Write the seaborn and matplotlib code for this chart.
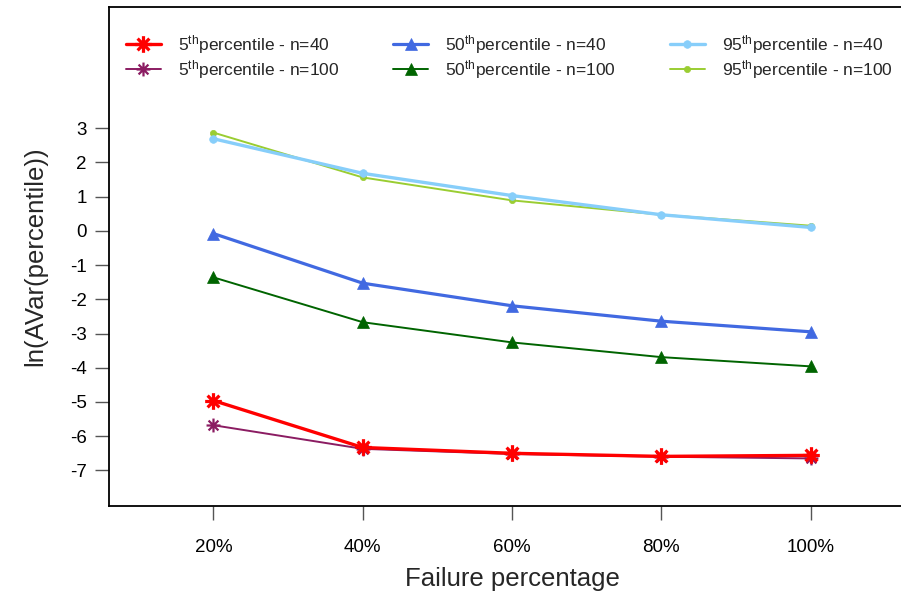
import numpy as np
import pandas as pd
import matplotlib
matplotlib.use("Agg")
import matplotlib.pyplot as plt
from matplotlib.path import Path
import seaborn as sns

# Failure percentages on the x axis
failure_pct = [20, 40, 60, 80, 100]
x_tick_labels = ["20%", "40%", "60%", "80%", "100%"]
y_ticks = [3, 2, 1, 0, -1, -2, -3, -4, -5, -6, -7]

# ln(AVar) of each percentile estimator
p5_n40 = [-4.96, -6.33, -6.50, -6.59, -6.56]
p5_n100 = [-5.68, -6.37, -6.52, -6.60, -6.65]
p50_n40 = [-0.08, -1.53, -2.19, -2.64, -2.95]
p50_n100 = [-1.36, -2.67, -3.26, -3.69, -3.96]
p95_n40 = [2.69, 1.68, 1.03, 0.47, 0.10]
p95_n100 = [2.87, 1.56, 0.89, 0.47, 0.15]

series_names = [
    "5$^{\\rm th}$percentile - n=40",
    "5$^{\\rm th}$percentile - n=100",
    "50$^{\\rm th}$percentile - n=40",
    "50$^{\\rm th}$percentile - n=100",
    "95$^{\\rm th}$percentile - n=40",
    "95$^{\\rm th}$percentile - n=100",
]
series_values = [p5_n40, p5_n100, p50_n40, p50_n100, p95_n40, p95_n100]

df = pd.DataFrame({
    "failure": np.tile(failure_pct, len(series_names)),
    "lnavar": np.concatenate(series_values),
    "series": np.repeat(series_names, len(failure_pct)),
})

sns.set_theme(style="ticks")
plt.rcParams["font.family"] = ["Liberation Sans", "DejaVu Sans"]
plt.rcParams["mathtext.fontset"] = "custom"
plt.rcParams["mathtext.rm"] = "Liberation Sans"
plt.rcParams["mathtext.it"] = "Liberation Sans:italic"
plt.rcParams["mathtext.bf"] = "Liberation Sans:bold"

# asterisk marker (R pch 8 style)
c = 0.7071
asterisk = Path(
    [(-1, 0), (1, 0), (0, -1), (0, 1), (-c, -c), (c, c), (-c, c), (c, -c)],
    [Path.MOVETO, Path.LINETO] * 4,
)

styles = {
    series_names[0]: dict(color="#FF0000", marker=asterisk, lw=2.4, ms=12, mew=2.3, z=6),
    series_names[1]: dict(color="#8B1C62", marker=asterisk, lw=1.4, ms=10, mew=1.6, z=5),
    series_names[2]: dict(color="#4169E1", marker="^", lw=2.3, ms=8, mew=0.5, z=4),
    series_names[3]: dict(color="#006400", marker="^", lw=1.4, ms=8, mew=0.5, z=3),
    series_names[4]: dict(color="#87CEFA", marker="o", lw=2.4, ms=5.5, mew=0.5, z=2),
    series_names[5]: dict(color="#9ACD32", marker="o", lw=1.4, ms=4.5, mew=0.5, z=1),
}

W, H = 901, 593
fig = plt.figure(figsize=(W / 100, H / 100), dpi=100)
ax = fig.add_axes([109 / W, (H - 506) / H, (915 - 109) / W, (506 - 7) / H])

for name in series_names:
    st = styles[name]
    sub = df[df["series"] == name]
    sns.lineplot(
        data=sub, x="failure", y="lnavar", ax=ax,
        color=st["color"], marker=st["marker"], lw=st["lw"],
        ms=st["ms"], mew=st["mew"], mec=st["color"], mfc=st["color"],
        label=name, zorder=st["z"], estimator=None, sort=False,
    )

ax.set_xlim(6, 114)
ax.set_ylim(-8.04, 6.54)
ax.set_xticks(failure_pct)
ax.set_xticklabels(x_tick_labels)
ax.set_yticks(y_ticks)
ax.set_yticklabels([str(v) for v in y_ticks])
ax.tick_params(axis="both", labelsize=13.5, length=10, width=1.0, color="#555555",
               labelcolor="black")
ax.tick_params(axis="x", pad=14)
ax.tick_params(axis="y", pad=6)
for sp in ax.spines.values():
    sp.set_color("black")
    sp.set_linewidth(1.3)
    sp.set_visible(True)

ax.set_xlabel("Failure percentage", fontsize=18.5, labelpad=8)
ax.set_ylabel("ln(AVar(percentile))", fontsize=18.5, labelpad=16)

handles, labels = ax.get_legend_handles_labels()
ax.legend(
    handles, labels, ncol=3, loc="upper left",
    bbox_to_anchor=(126 / W, (H - 33) / H), bbox_transform=fig.transFigure,
    frameon=False, fontsize=12.5, handlelength=2.0, handletextpad=1.0,
    columnspacing=3.1, labelspacing=0.12, borderaxespad=0, borderpad=0,
)

fig.savefig("out.png", dpi=100, facecolor="white")
